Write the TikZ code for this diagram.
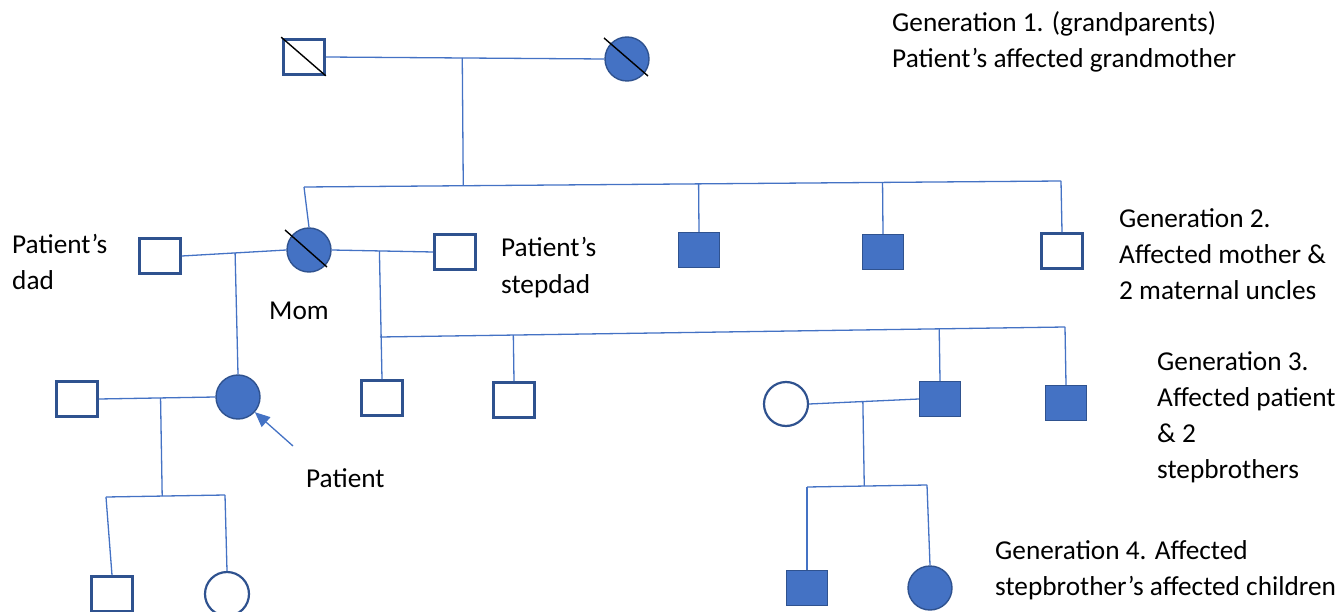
\documentclass[tikz,border=0pt]{standalone}
\usepackage{fontspec}
\setmainfont{Carlito}
\usetikzlibrary{calc,arrows.meta}
\definecolor{lineblue}{HTML}{4472C4}
\definecolor{edgeblue}{HTML}{2F528F}
\begin{document}
\begin{tikzpicture}[x=1pt,y=-1pt,
  conn/.style={draw=lineblue,line width=1.3pt},
  male/.style={rectangle,draw=edgeblue,line width=2.6pt,minimum width=41pt,minimum height=35pt,inner sep=0pt,fill=white},
  female/.style={circle,draw=edgeblue,line width=2.2pt,minimum size=44pt,inner sep=0pt,fill=white},
  aff/.style={fill=lineblue,line width=1.4pt},
  dec/.style={draw=black,line width=1.4pt},
  lbl/.style={anchor=base west,align=left,inner sep=0pt,font=\fontsize{27.3}{36}\selectfont}]
\useasboundingbox (0,0) rectangle (1343,612);
% generation 1
\node[male] (gf) at (304,57) {};
\node[female,aff] (gm) at (627,59) {};
% generation 2
\node[male] (dad) at (160,256) {};
\node[female,aff] (mom) at (309,250) {};
\node[male] (sd) at (455,252) {};
\node[male,aff] (u1) at (699,250) {};
\node[male,aff] (u2) at (883,252) {};
\node[male] (u3) at (1062,251) {};
% generation 3
\node[male] (psp) at (77,399) {};
\node[female,aff] (pat) at (238,397) {};
\node[male] (sb1) at (382,398) {};
\node[male] (sb2) at (514,400) {};
\node[female] (wife) at (786,404) {};
\node[male,aff] (sb3) at (940,399) {};
\node[male,aff] (sb4) at (1066,403) {};
% generation 4
\node[male] (c1) at (112,594) {};
\node[female] (c2) at (227,594) {};
\node[male,aff] (c3) at (807,588) {};
\node[female,aff] (c4) at (930,588) {};
% deceased slashes
\draw[dec] ($(gf.north west)+(-1,-1)$) -- ($(gf.south east)+(0,0)$);
\draw[dec] ($(gm.center)+(-23,-21)$) -- ($(gm.center)+(21,17)$);
\draw[dec] ($(mom.center)+(-24,-20)$) -- ($(mom.center)+(18,17)$);
% coordinates of lines
\coordinate (d1) at ($(gf.east)!0.49!(gm.west)$);
\coordinate (s2L) at (304,187);
\coordinate (s2R) at (1061,181);
\coordinate (m1) at ($(dad.east)!0.51!(mom.west)$);
\coordinate (m2) at ($(mom.east)!0.47!(sd.west)$);
\coordinate (s3L) at (380,337);
\coordinate (s3R) at (1065,327);
\coordinate (m3) at ($(psp.east)!0.53!(pat.west)$);
\coordinate (s4L) at (106,497);
\coordinate (s4R) at (225,495);
\coordinate (m4) at ($(wife.east)!0.49!(sb3.west)$);
\coordinate (s5L) at (807,487);
\coordinate (s5R) at (927,485);
% connectors gen 1 -> 2
\draw[conn] (gf.east) -- (gm.west);
\draw[conn] (d1) -- ($(s2L)!(d1)!(s2R)$);
\draw[conn] (s2L) -- (s2R);
\draw[conn] (s2L) -- (mom.north);
\draw[conn] (u1.north) -- ($(s2L)!(u1.north)!(s2R)$);
\draw[conn] (u2.north) -- ($(s2L)!(u2.north)!(s2R)$);
\draw[conn] (u3.north) -- (s2R);
% gen 2 couples
\draw[conn] (dad.east) -- (mom.west);
\draw[conn] (m1) -- (pat.north);
\draw[conn] (mom.east) -- (sd.west);
\draw[conn] (m2) -- (sb1.north);
\draw[conn] (s3L) -- (s3R);
\draw[conn] (sb2.north) -- ($(s3L)!(sb2.north)!(s3R)$);
\draw[conn] (sb3.north) -- ($(s3L)!(sb3.north)!(s3R)$);
\draw[conn] (sb4.north) -- (s3R);
% gen 3 couples
\draw[conn] (psp.east) -- (pat.west);
\draw[conn] (m3) -- ($(s4L)!(m3)!(s4R)$);
\draw[conn] (s4L) -- (s4R);
\draw[conn] (s4L) -- (c1.north);
\draw[conn] (s4R) -- (c2.north);
\draw[conn] (wife.east) -- (sb3.west);
\draw[conn] (m4) -- ($(s5L)!(m4)!(s5R)$);
\draw[conn] (s5L) -- (s5R);
\draw[conn] (s5L) -- (c3.north);
\draw[conn] (s5R) -- (c4.north);
% arrow to patient
\coordinate (arrtail) at (293,446);
\draw[conn,-{Triangle[length=15pt,width=13pt]}] (arrtail) -- (pat.-42);
% labels (anchored at the baseline of their last line)
\node[lbl] (t1) at (892,68) {Generation 1. (grandparents)\\Patient’s affected grandmother};
\node[lbl] (t2) at (1119,299) {Generation 2.\\Affected mother \&\\2 maternal uncles};
\node[lbl] (t3) at (1157,478) {Generation 3.\\Affected patient\\\& 2\\stepbrothers};
\node[lbl] (t4) at (995,595) {Generation 4. Affected\\stepbrother’s affected children};
\node[lbl] (tdad) at (12,290) {Patient’s\\dad};
\node[lbl] (tsd) at (501,293) {Patient’s\\stepdad};
\node[lbl] (tmom) at (269,319) {Mom};
\node[lbl] (tpat) at (306,487) {Patient};
\end{tikzpicture}
\end{document}
